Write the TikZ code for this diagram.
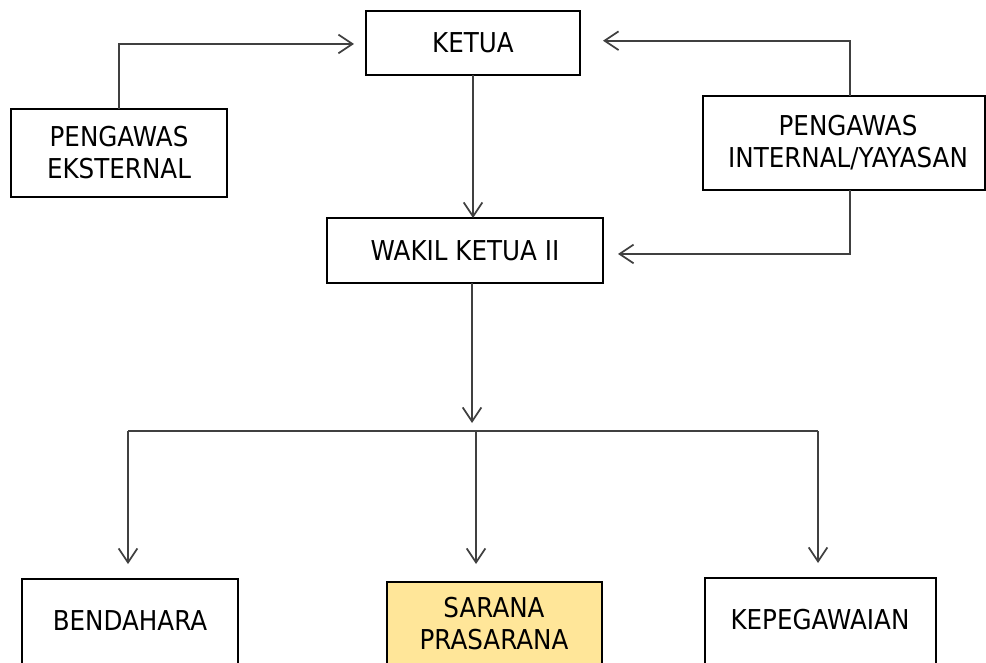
\documentclass[tikz,border=0pt]{standalone}
\usepackage{fontspec}
\setmainfont{DejaVu Sans}[FakeStretch=0.9]
\usetikzlibrary{arrows.meta}
\definecolor{saranafill}{RGB}{255,230,153}
\begin{document}
\begin{tikzpicture}[x=0.75pt,y=-0.75pt,
  txt/.style={inner sep=0pt, outer sep=0pt, align=center, font=\fontsize{20.5}{24}\selectfont},
  box/.style={txt, draw=black, line width=1.1pt},
  conn/.style={draw=black!75, line width=1.4pt},
  arr/.style={conn, -{Straight Barb[length=10.5pt,width=14pt,line width=1.3pt]}}]
\useasboundingbox (0,0) rectangle (986,663);
\clip (0,0) rectangle (986,663);
% main boxes
\node[box, minimum width=160.5pt, minimum height=48pt] (ketua) at (473,43) {KETUA};
\node[box, minimum width=162pt, minimum height=66pt] (pe) at (119,153) {PENGAWAS\\EKSTERNAL};
\node[box, minimum width=211.5pt, minimum height=70.5pt] (pi) at (844,143) {\hspace*{6pt}PENGAWAS\\\hspace*{6pt}INTERNAL/YAYASAN};
\node[box, minimum width=207pt, minimum height=48.75pt] (wakil) at (465,250.5) {WAKIL KETUA II};
% bottom boxes (cut by the lower edge)
\node[box, minimum width=162pt, minimum height=90pt, anchor=north] (bendbox) at (130,579) {};
\node[box, fill=saranafill, minimum width=161.25pt, minimum height=90pt, anchor=north] (sarbox) at (494.5,582) {};
\node[box, minimum width=173.25pt, minimum height=90pt, anchor=north] (kepbox) at (820.5,578) {};
\node[txt] (bend) at (130,621) {BENDAHARA};
\node[txt] (sar) at (494,624) {SARANA\\PRASARANA};
\node[txt] (kep) at (820,620) {KEPEGAWAIAN};
% bus
\coordinate (busL) at (128,431);
\coordinate (busM) at (476,431);
\coordinate (busR) at (818,431);
\coordinate (busW) at (472,431);
% connectors
\draw[arr, shorten >=9pt] (pe.north) |- ([yshift=-0.75pt]ketua.west);
\draw[arr, shorten >=17.25pt] ([xshift=4.5pt]pi.north) |- ([yshift=1.7pt]ketua.east);
\draw[arr, shorten >=11.25pt] ([xshift=4.5pt]pi.south) |- ([yshift=-2.6pt]wakil.east);
\draw[arr] (ketua.south) -- (ketua.south |- wakil.north);
\draw[arr, shorten >=6pt] (busW |- wakil.south) -- (busW);
\draw[conn] (busL) -- (busR);
\draw[arr, shorten >=11.25pt] (busL) -- (busL |- bendbox.north);
\draw[arr, shorten >=13.5pt] (busM) -- (busM |- sarbox.north);
\draw[arr, shorten >=11.25pt] (busR) -- (busR |- kepbox.north);
\end{tikzpicture}
\end{document}
